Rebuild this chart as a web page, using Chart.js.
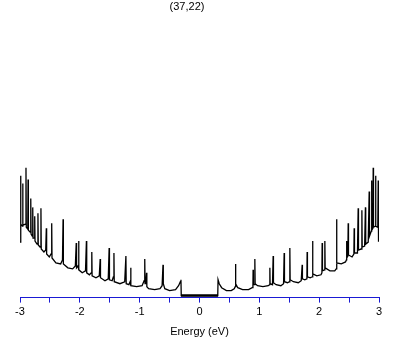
<!DOCTYPE html>
<html>
<head>
<meta charset="utf-8">
<script src="https://cdn.jsdelivr.net/npm/chart.js@4"></script>
<style>
  html, body { margin: 0; padding: 0; background: #fff; }
  #wrap { width: 409px; height: 345px; }
</style>
</head>
<body>
<div id="wrap"><canvas id="chartDos" width="409" height="345"></canvas></div>
<script>
const chartTitle = "(37,22)";
const axisTitle = "Energy (eV)";
const axisColor = "#1a1ad4";

// [energy eV, DOS arb. units], valence side
const dosNeg = [
    [-3.000, 0.54], [-2.990, 1.21], [-2.985, 0.72], [-2.960, 0.70], [-2.955, 1.13], [-2.950, 0.71],
    [-2.910, 0.72], [-2.900, 1.29], [-2.895, 0.69], [-2.870, 0.67], [-2.865, 1.17], [-2.860, 0.66],
    [-2.830, 0.64], [-2.820, 0.98], [-2.815, 0.62], [-2.795, 0.60], [-2.787, 0.89], [-2.782, 0.58],
    [-2.760, 0.58], [-2.754, 0.80], [-2.749, 0.55], [-2.715, 0.52], [-2.700, 0.83], [-2.695, 0.51],
    [-2.665, 0.49], [-2.650, 0.88], [-2.645, 0.47], [-2.600, 0.44], [-2.570, 0.46], [-2.560, 0.68],
    [-2.555, 0.42], [-2.510, 0.39], [-2.480, 0.42], [-2.470, 0.73], [-2.465, 0.38], [-2.400, 0.33],
    [-2.320, 0.32], [-2.290, 0.36], [-2.280, 0.77], [-2.275, 0.32], [-2.200, 0.28], [-2.120, 0.27],
    [-2.075, 0.30], [-2.060, 0.53], [-2.055, 0.28], [-2.030, 0.30], [-2.020, 0.55], [-2.015, 0.26],
    [-1.960, 0.23], [-1.905, 0.25], [-1.890, 0.55], [-1.885, 0.23], [-1.840, 0.21], [-1.810, 0.23],
    [-1.800, 0.44], [-1.795, 0.20], [-1.730, 0.18], [-1.675, 0.20], [-1.660, 0.37], [-1.655, 0.18],
    [-1.580, 0.15], [-1.525, 0.17], [-1.510, 0.48], [-1.505, 0.16], [-1.460, 0.15], [-1.440, 0.19],
    [-1.430, 0.43], [-1.425, 0.14], [-1.330, 0.12], [-1.250, 0.14], [-1.230, 0.40], [-1.225, 0.12],
    [-1.180, 0.11], [-1.160, 0.14], [-1.150, 0.28], [-1.145, 0.10], [-1.050, 0.09], [-0.960, 0.10],
    [-0.925, 0.15], [-0.915, 0.37], [-0.910, 0.12], [-0.895, 0.13], [-0.885, 0.23], [-0.880, 0.09],
    [-0.850, 0.07], [-0.750, 0.06], [-0.660, 0.07], [-0.625, 0.10], [-0.610, 0.31], [-0.605, 0.12],
    [-0.580, 0.07], [-0.500, 0.05], [-0.400, 0.06], [-0.350, 0.10], [-0.320, 0.14], [-0.310, 0.16],
    [-0.305, 0.00],
];

// conduction side
const dosPos = [
    [0.305, 0.00], [0.310, 0.16], [0.330, 0.12], [0.370, 0.08], [0.450, 0.05], [0.530, 0.05],
    [0.580, 0.07], [0.597, 0.09], [0.602, 0.32], [0.607, 0.12], [0.640, 0.08], [0.720, 0.06],
    [0.820, 0.06], [0.880, 0.08], [0.893, 0.10], [0.896, 0.26], [0.900, 0.11], [0.920, 0.11],
    [0.925, 0.37], [0.930, 0.12], [0.970, 0.10], [1.060, 0.09], [1.150, 0.10], [1.172, 0.11],
    [1.176, 0.28], [1.180, 0.12], [1.220, 0.11], [1.231, 0.40], [1.236, 0.13], [1.280, 0.11],
    [1.360, 0.10], [1.405, 0.12], [1.415, 0.43], [1.420, 0.14], [1.470, 0.13], [1.505, 0.14],
    [1.510, 0.48], [1.515, 0.16], [1.570, 0.14], [1.650, 0.13], [1.700, 0.15], [1.716, 0.31],
    [1.720, 0.17], [1.760, 0.16], [1.795, 0.17], [1.799, 0.44], [1.804, 0.19], [1.850, 0.18],
    [1.885, 0.19], [1.890, 0.55], [1.895, 0.22], [1.960, 0.20], [2.030, 0.21], [2.046, 0.23],
    [2.050, 0.53], [2.055, 0.25], [2.090, 0.26], [2.095, 0.55], [2.100, 0.28], [2.180, 0.25],
    [2.260, 0.25], [2.285, 0.27], [2.291, 0.77], [2.296, 0.33], [2.370, 0.32], [2.440, 0.34],
    [2.455, 0.36], [2.458, 0.55], [2.462, 0.38], [2.480, 0.40], [2.485, 0.73], [2.490, 0.41],
    [2.550, 0.39], [2.580, 0.42], [2.585, 0.68], [2.590, 0.43], [2.640, 0.43], [2.652, 0.88],
    [2.657, 0.46], [2.700, 0.47], [2.714, 0.86], [2.719, 0.49], [2.760, 0.50], [2.773, 0.89],
    [2.778, 0.52], [2.820, 0.54], [2.836, 1.05], [2.841, 0.60], [2.870, 0.65], [2.876, 1.16],
    [2.880, 0.66], [2.898, 0.68], [2.903, 1.29], [2.908, 0.69], [2.938, 0.70], [2.943, 1.21],
    [2.948, 0.70], [2.980, 0.69], [2.987, 1.16], [2.992, 0.55], [3.000, 0.55],
];

// band gap edges, DOS is zero in between
const gapEdges = [-0.31, 0.31];

const xMin = -3, xMax = 3, xStep = 0.5;

const toPts = arr => arr.map(p => ({ x: p[0], y: p[1] }));

const titlePlugin = {
    id: "topTitle",
    afterDraw(chart) {
        const ctx = chart.ctx;
        ctx.save();
        ctx.font = "11px 'Liberation Sans', Arial, sans-serif";
        ctx.fillStyle = "#000";
        ctx.textAlign = "center";
        ctx.textBaseline = "middle";
        ctx.fillText(chartTitle, 187, 7);
        ctx.restore();
    },
};

new Chart(document.getElementById("chartDos"), {
    type: "line",
    data: {
        datasets: [
            {
                data: toPts(dosNeg).concat(toPts(dosPos)),
                borderColor: "#000", borderWidth: 1.3, pointRadius: 0, tension: 0, fill: false,
            },
            {
                data: gapEdges.map(e => ({ x: e, y: 0 })),
                borderColor: "#000", borderWidth: 2.5, pointRadius: 0, tension: 0, fill: false,
            },
        ],
    },
    options: {
        responsive: false, animation: false,
        layout: { padding: { left: 20, right: 30, top: 20, bottom: 2 } },
        plugins: { legend: { display: false }, tooltip: { enabled: false }, title: { display: false } },
        scales: {
            x: {
                type: "linear", min: xMin, max: xMax,
                border: { display: true, color: axisColor, width: 1 },
                grid: { display: true, drawOnChartArea: false, drawTicks: true, tickLength: 5, color: axisColor },
                ticks: {
                    stepSize: xStep, autoSkip: false, maxRotation: 0, padding: 3, color: "#000",
                    font: { family: "'Liberation Sans', Arial, sans-serif", size: 11 },
                    callback: v => (Number.isInteger(v) ? String(v) : ""),
                },
                title: {
                    display: true, text: axisTitle, color: "#000", padding: { top: 4, bottom: 4 },
                    font: { family: "'Liberation Sans', Arial, sans-serif", size: 11 },
                },
            },
            y: { display: false, min: -0.02, max: 2.78 },
        },
    },
    plugins: [titlePlugin],
});
</script>
</body>
</html>
